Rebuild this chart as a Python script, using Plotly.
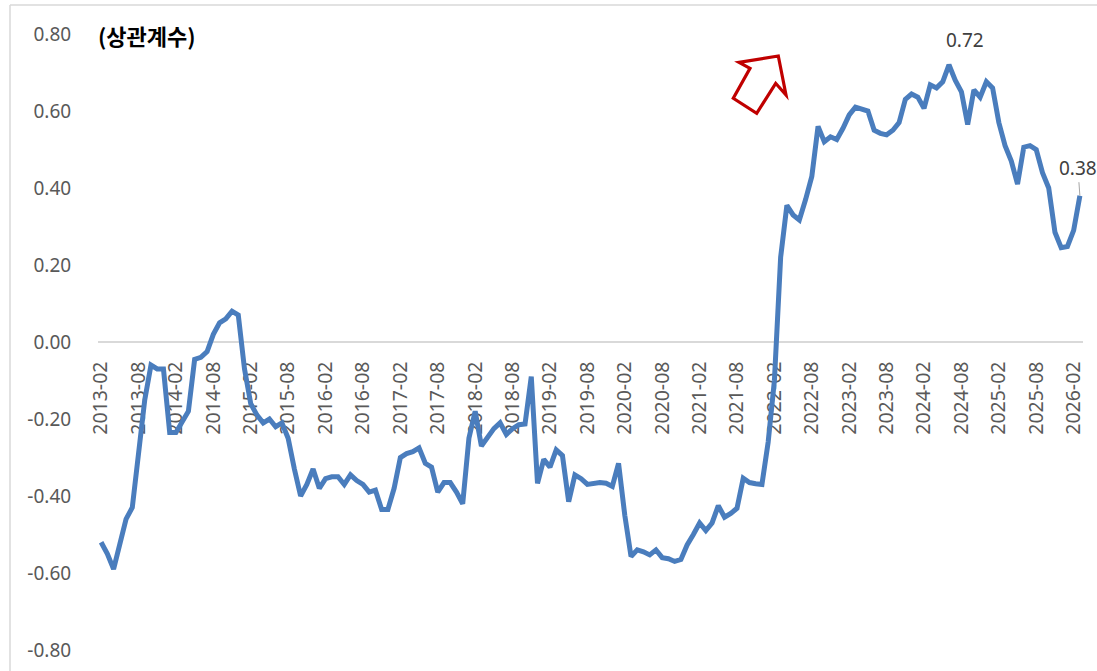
import plotly.graph_objects as go

# ---------------- data ----------------
start_year, start_month = 2013, 2
n_points = 158
months = []
y_, m_ = start_year, start_month
for _ in range(n_points):
    months.append(f"{y_}-{m_:02d}")
    m_ += 1
    if m_ > 12:
        m_ = 1
        y_ += 1

corr = [
    -0.52, -0.55, -0.59, -0.52, -0.46, -0.43, -0.28, -0.15, -0.06, -0.07,
    -0.07, -0.235, -0.235, -0.21, -0.18, -0.045, -0.04, -0.025, 0.02, 0.05,
    0.06, 0.08, 0.07, -0.07, -0.16, -0.19, -0.21, -0.20, -0.22, -0.21,
    -0.25, -0.33, -0.40, -0.37, -0.33, -0.38, -0.355, -0.35, -0.35, -0.37,
    -0.345, -0.36, -0.37, -0.39, -0.385, -0.435, -0.435, -0.38, -0.30, -0.29,
    -0.285, -0.275, -0.315, -0.325, -0.39, -0.365, -0.365, -0.39, -0.42, -0.25,
    -0.18, -0.27, -0.245, -0.225, -0.21, -0.24, -0.225, -0.215, -0.213, -0.09,
    -0.367, -0.305, -0.325, -0.28, -0.295, -0.415, -0.345, -0.355, -0.37, -0.368,
    -0.365, -0.367, -0.375, -0.315, -0.45, -0.557, -0.54, -0.545, -0.553, -0.54,
    -0.56, -0.563, -0.57, -0.565, -0.527, -0.50, -0.47, -0.49, -0.47, -0.425,
    -0.455, -0.445, -0.432, -0.354, -0.365, -0.368, -0.37, -0.26, -0.10, 0.22,
    0.355, 0.33, 0.317, 0.37, 0.43, 0.56, 0.52, 0.533, 0.526, 0.555,
    0.59, 0.61, 0.605, 0.60, 0.55, 0.542, 0.538, 0.55, 0.57, 0.63,
    0.644, 0.636, 0.607, 0.668, 0.66, 0.676, 0.72, 0.68, 0.65, 0.565,
    0.655, 0.636, 0.676, 0.66, 0.57, 0.51, 0.47, 0.41, 0.506, 0.51,
    0.50, 0.44, 0.40, 0.285, 0.245, 0.248, 0.29, 0.38,
]

tick_labels = [
    "2013-02", "2013-08", "2014-02", "2014-08", "2015-02", "2015-08",
    "2016-02", "2016-08", "2017-02", "2017-08", "2018-02", "2018-08",
    "2019-02", "2019-08", "2020-02", "2020-08", "2021-02", "2021-08",
    "2022-02", "2022-08", "2023-02", "2023-08", "2024-02", "2024-08",
    "2025-02", "2025-08", "2026-02",
]
y_tick_vals = [-0.8, -0.6, -0.4, -0.2, 0.0, 0.2, 0.4, 0.6, 0.8]
y_tick_text = ["-0.80", "-0.60", "-0.40", "-0.20", "0.00", "0.20", "0.40", "0.60", "0.80"]

unit_label = "(상관계수)"
peak_label = "0.72"
last_label = "0.38"

# ---------------- layout geometry ----------------
W, H = 1097, 671
ML, MR, MT, MB = 98, 14, 34, 21
PW, PH = W - ML - MR, H - MT - MB


def px2x(px):
    return (px - ML) / PW


def py2y(py):
    return (H - MB - py) / PH


line_color = "#4a7dbd"
axis_font = dict(family="Noto Sans, Open Sans, sans-serif", size=19, color="#595959")
xaxis_font = dict(family="Noto Sans, Open Sans, sans-serif", size=19.5, color="#595959")

fig = go.Figure()
fig.add_trace(go.Scatter(
    x=months, y=corr, mode="lines",
    line=dict(color=line_color, width=5),
    hoverinfo="x+y", showlegend=False,
))

peak_idx = corr.index(max(corr))

annotations = [
    dict(text=f"<b>{unit_label}</b>", xref="paper", yref="paper",
         x=px2x(96), y=py2y(35), xanchor="left", yanchor="middle",
         showarrow=False,
         font=dict(family="Noto Sans CJK KR, sans-serif", size=22, color="#000000")),
    dict(text=peak_label, xref="x", yref="y", x=months[peak_idx], y=corr[peak_idx],
         showarrow=False, xshift=16, yshift=25,
         font=dict(family="Noto Sans, sans-serif", size=19, color="#404040")),
    dict(text=last_label, xref="x", yref="y", x=months[-1], y=corr[-1],
         showarrow=True, arrowhead=0, arrowwidth=1, arrowcolor="#a6a6a6",
         ax=-2, ay=-28,
         font=dict(family="Noto Sans, sans-serif", size=19, color="#404040")),
]

# hollow red arrow (pixel outline -> paper)
arrow_px = [(739, 62.3), (778.3, 56), (786, 95), (775.7, 83.3),
            (756.7, 113.3), (733.3, 98.3), (750, 68.3)]
path = "M " + " L ".join(f"{px2x(a):.5f},{py2y(b):.5f}" for a, b in arrow_px) + " Z"

shapes = [
    dict(type="path", path=path, xref="paper", yref="paper",
         line=dict(color="#c00000", width=3.2), fillcolor="white", layer="above"),
    # chart-area border (top and left visible in the crop)
    dict(type="line", xref="paper", yref="paper",
         x0=px2x(10), x1=px2x(10), y0=py2y(5), y1=py2y(675),
         line=dict(color="#d9d9d9", width=1.5)),
    dict(type="line", xref="paper", yref="paper",
         x0=px2x(10), x1=px2x(1100), y0=py2y(5), y1=py2y(5),
         line=dict(color="#d9d9d9", width=1.5)),
]

fig.update_layout(
    width=W, height=H,
    margin=dict(l=ML, r=MR, t=MT, b=MB, pad=0),
    paper_bgcolor="white", plot_bgcolor="white",
    annotations=annotations, shapes=shapes,
    xaxis=dict(
        type="category", range=[-0.5, n_points - 0.5],
        tickmode="array", tickvals=tick_labels, ticktext=tick_labels,
        tickangle=-90, tickfont=xaxis_font,
        ticks="outside", ticklen=11, tickcolor="rgba(0,0,0,0)",
        showline=True, linecolor="#d9d9d9", linewidth=1.5,
        showgrid=False, zeroline=False,
        anchor="free", position=0.5, layer="below traces",
        automargin=False, fixedrange=True,
    ),
    yaxis=dict(
        range=[-0.8, 0.8], domain=[0, 1],
        tickmode="array", tickvals=y_tick_vals, ticktext=y_tick_text,
        tickfont=axis_font,
        ticks="outside", ticklen=22, tickcolor="rgba(0,0,0,0)",
        showline=False, showgrid=False, zeroline=False,
        automargin=False, fixedrange=True,
    ),
)

fig.write_html(
    "out.html",
    config={"displayModeBar": False},
    post_script="document.body.style.margin='0px';document.body.style.overflow='hidden';",
)
